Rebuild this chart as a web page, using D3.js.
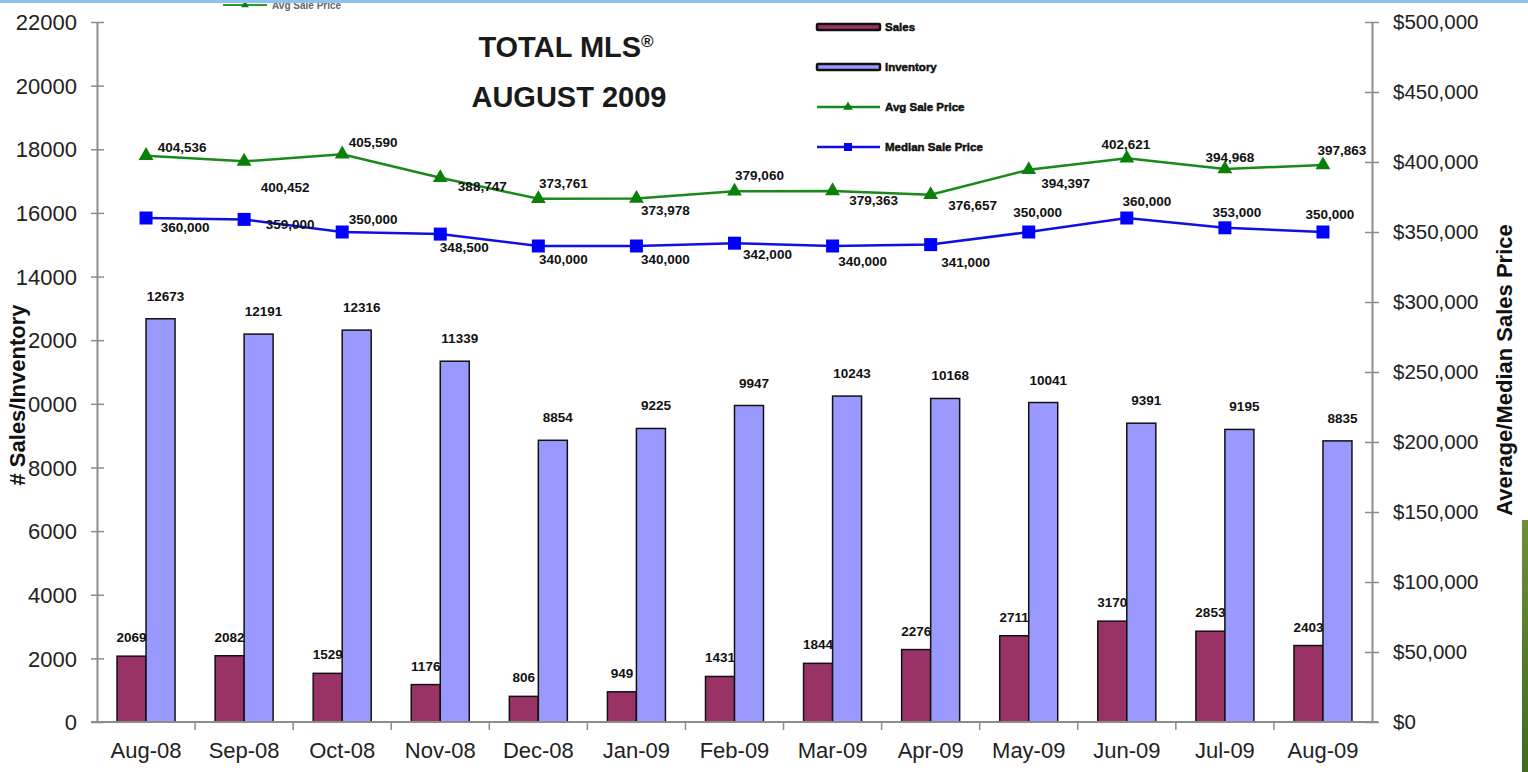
<!DOCTYPE html>
<html>
<head>
<meta charset="utf-8">
<script src="https://cdn.jsdelivr.net/npm/d3@7/dist/d3.min.js"></script>
<style>
  body { margin: 0; background: #fff; }
  svg { display: block; }
  text { font-family: "Liberation Sans", Arial, sans-serif; }
</style>
</head>
<body>
<div class="chart"></div>
<script>
// data
var months = ["Aug-08","Sep-08","Oct-08","Nov-08","Dec-08","Jan-09","Feb-09","Mar-09","Apr-09","May-09","Jun-09","Jul-09","Aug-09"];
var sales = [2069, 2082, 1529, 1176, 806, 949, 1431, 1844, 2276, 2711, 3170, 2853, 2403];
var inventory = [12673, 12191, 12316, 11339, 8854, 9225, 9947, 10243, 10168, 10041, 9391, 9195, 8835];
var avgPrice = [404536, 400452, 405590, 388747, 373761, 373978, 379060, 379363, 376657, 394397, 402621, 394968, 397863];
var medianPrice = [360000, 359000, 350000, 348500, 340000, 340000, 342000, 340000, 341000, 350000, 360000, 353000, 350000];
var leftTicks = [0, 2000, 4000, 6000, 8000, 10000, 12000, 14000, 16000, 18000, 20000, 22000];
var rightTicks = [0, 50000, 100000, 150000, 200000, 250000, 300000, 350000, 400000, 450000, 500000];

// where each price label sits relative to its point (px)
var avgLabelPos = [[36,-8],[41,26],[31,-12],[42,9],[25,-15],[29,12],[25,-16],[41,9],[42,11],[37,13],[-1,-14],[5,-12],[19,-15]];
var medLabelPos = [[39,9],[46,5],[31,-13],[24,13],[25,13],[29,13],[33,11],[30,15],[35,18],[9,-20],[20,-17],[12,-16],[7,-18]];

var W = 1528, H = 772;
var svg = d3.select(".chart").append("svg").attr("width", W).attr("height", H);

var x = d3.scaleBand().domain(months).range([97, 1372]).padding(0);
var yL = d3.scaleLinear().domain([0, 22000]).range([722, 22]);
var yR = d3.scaleLinear().domain([0, 500000]).range([722, 22]);
var barW = 29;
var axisCol = "#8c8c8c";

// ghost legend piece peeking under top border
svg.append("line").attr("x1", 223).attr("x2", 267).attr("y1", 5).attr("y2", 5)
   .attr("stroke", "#2a9a2a").attr("stroke-width", 2);
svg.append("path").attr("d", d3.symbol().type(d3.symbolTriangle).size(25)).attr("transform", "translate(245,5)").attr("fill", "#0a800a");
svg.append("text").attr("x", 272).attr("y", 9).attr("font-size", 10).attr("font-weight", "bold")
   .attr("fill", "#666").text("Avg Sale Price");

// bars
var g = svg.append("g");
g.selectAll("rect.sales").data(sales).enter().append("rect").attr("class", "sales")
  .attr("x", function(d, i){ return x(months[i]) + x.bandwidth()/2 - barW; })
  .attr("y", function(d){ return yL(d); })
  .attr("width", barW)
  .attr("height", function(d){ return yL(0) - yL(d); })
  .attr("fill", "#993366").attr("stroke", "#111").attr("stroke-width", 1.5);
g.selectAll("rect.inv").data(inventory).enter().append("rect").attr("class", "inv")
  .attr("x", function(d, i){ return x(months[i]) + x.bandwidth()/2; })
  .attr("y", function(d){ return yL(d); })
  .attr("width", barW)
  .attr("height", function(d){ return yL(0) - yL(d); })
  .attr("fill", "#9999ff").attr("stroke", "#111").attr("stroke-width", 1.5);

g.selectAll("text.sl").data(sales).enter().append("text")
  .attr("x", function(d, i){ return x(months[i]) + x.bandwidth()/2 - barW/2; })
  .attr("y", function(d){ return yL(d) - 14; })
  .attr("text-anchor", "middle").attr("font-size", 13.5).attr("font-weight", "bold").attr("fill", "#111")
  .text(function(d){ return d; });
g.selectAll("text.il").data(inventory).enter().append("text")
  .attr("x", function(d, i){ return x(months[i]) + x.bandwidth()/2 + barW/2 + 5; })
  .attr("y", function(d){ return yL(d) - 18; })
  .attr("text-anchor", "middle").attr("font-size", 13.5).attr("font-weight", "bold").attr("fill", "#111")
  .text(function(d){ return d; });

// axes
function styleAxis(sel){
  sel.select(".domain").attr("stroke", axisCol).attr("stroke-width", 2);
  sel.selectAll(".tick line").attr("stroke", axisCol).attr("stroke-width", 1.5);
}
var axL = svg.append("g").attr("transform", "translate(97,0)")
  .call(d3.axisLeft(yL).tickValues(leftTicks).tickSize(7).tickSizeOuter(0).tickPadding(13).tickFormat(d3.format("d")));
styleAxis(axL);
axL.selectAll(".tick line").attr("x2", 7).attr("x1", -6);
axL.selectAll(".tick text").attr("font-size", 22).attr("fill", "#222").attr("dy", "0.35em").attr("x", -20);

var axR = svg.append("g").attr("transform", "translate(1372,0)")
  .call(d3.axisRight(yR).tickValues(rightTicks).tickSize(7).tickSizeOuter(0).tickFormat(function(d){ return "$" + d3.format(",")(d); }));
styleAxis(axR);
axR.selectAll(".tick line").attr("x1", -7).attr("x2", 7);
axR.selectAll(".tick text").attr("font-size", 20.5).attr("fill", "#222").attr("x", 21);

var axB = svg.append("g").attr("transform", "translate(0,722)")
  .call(d3.axisBottom(x).tickSize(0).tickPadding(20));
styleAxis(axB);
axB.select(".domain").attr("d", "M91,0H1378");
axB.selectAll(".tick text").attr("font-size", 22).attr("fill", "#222");
axB.selectAll("line.sep").data(months.slice(1)).enter().append("line").attr("class", "sep")
  .attr("x1", function(d){ return x(d); }).attr("x2", function(d){ return x(d); })
  .attr("y1", 0).attr("y2", 8).attr("stroke", axisCol).attr("stroke-width", 1.5);

// price lines
function cx(i){ return x(months[i]) + x.bandwidth()/2; }
var lineAvg = d3.line().x(function(d, i){ return cx(i); }).y(function(d){ return yR(d); });
svg.append("path").attr("d", lineAvg(avgPrice)).attr("fill", "none").attr("stroke", "#1a881a").attr("stroke-width", 2.5);
svg.append("path").attr("d", lineAvg(medianPrice)).attr("fill", "none").attr("stroke", "#1010e0").attr("stroke-width", 2.5);

var tri = d3.symbol().type(d3.symbolTriangle).size(95);
svg.selectAll("path.tri").data(avgPrice).enter().append("path").attr("class", "tri")
  .attr("d", tri).attr("fill", "#0a800a")
  .attr("transform", function(d, i){ return "translate(" + cx(i) + "," + yR(d) + ")"; });
svg.selectAll("rect.sq").data(medianPrice).enter().append("rect").attr("class", "sq")
  .attr("x", function(d, i){ return cx(i) - 6.5; }).attr("y", function(d){ return yR(d) - 6.5; })
  .attr("width", 13).attr("height", 13).attr("fill", "#0000ff");

svg.selectAll("text.al").data(avgPrice).enter().append("text")
  .attr("x", function(d, i){ return cx(i) + avgLabelPos[i][0]; })
  .attr("y", function(d, i){ return yR(d) + avgLabelPos[i][1]; })
  .attr("dy", "0.35em").attr("text-anchor", "middle").attr("font-size", 13.5).attr("font-weight", "bold").attr("fill", "#111")
  .text(function(d){ return d3.format(",")(d); });
svg.selectAll("text.ml").data(medianPrice).enter().append("text")
  .attr("x", function(d, i){ return cx(i) + medLabelPos[i][0]; })
  .attr("y", function(d, i){ return yR(d) + medLabelPos[i][1]; })
  .attr("dy", "0.35em").attr("text-anchor", "middle").attr("font-size", 13.5).attr("font-weight", "bold").attr("fill", "#111")
  .text(function(d){ return d3.format(",")(d); });

// axis titles
svg.append("text").attr("transform", "translate(17,395) rotate(-90)")
  .attr("text-anchor", "middle").attr("dy", "0.35em").attr("font-size", 22).attr("font-weight", "bold").attr("fill", "#111")
  .attr("stroke", "#fff").attr("stroke-width", 5).attr("paint-order", "stroke")
  .text("# Sales/Inventory");
svg.append("text").attr("transform", "translate(1504,370) rotate(-90)")
  .attr("text-anchor", "middle").attr("dy", "0.35em").attr("font-size", 22).attr("font-weight", "bold").attr("fill", "#111")
  .text("Average/Median Sales Price");

// title
var title = svg.append("text").attr("x", 569).attr("text-anchor", "middle")
  .attr("font-family", "'Open Sans', Lato, sans-serif").attr("font-weight", "bold").attr("font-size", 29).attr("fill", "#1a1a1a");
title.append("tspan").attr("x", 566).attr("y", 57).text("TOTAL MLS");
title.append("tspan").attr("font-size", 17).attr("dy", -10).text("®");
title.append("tspan").attr("x", 569).attr("y", 107).text("AUGUST 2009");

// legend
var legendItems = ["Sales", "Inventory", "Avg Sale Price", "Median Sale Price"];
var leg = svg.selectAll("g.leg").data(legendItems).enter().append("g").attr("class", "leg")
  .attr("transform", function(d, i){ return "translate(817," + (27 + i * 40) + ")"; });
leg.each(function(d, i){
  var s = d3.select(this);
  if (i < 2) {
    s.append("rect").attr("x", 0).attr("y", -3).attr("width", 63).attr("height", 6)
      .attr("fill", i === 0 ? "#993366" : "#9999ff").attr("stroke", "#111").attr("stroke-width", 2.5).attr("rx", 1);
  } else {
    s.append("line").attr("x1", 0).attr("x2", 63).attr("y1", 0).attr("y2", 0)
      .attr("stroke", i === 2 ? "#1a881a" : "#1010e0").attr("stroke-width", 2.5);
    if (i === 2) s.append("path").attr("d", d3.symbol().type(d3.symbolTriangle).size(40)).attr("transform", "translate(31,0)").attr("fill", "#0a800a");
    else s.append("rect").attr("x", 27).attr("y", -4).attr("width", 8).attr("height", 8).attr("fill", "#0000ff");
  }
  s.append("text").attr("x", 68).attr("dy", "0.35em").attr("font-size", 11.5).attr("font-weight", "bold")
    .attr("fill", "#111").attr("stroke", "#111").attr("stroke-width", 0.5).text(d);
});

// frame pieces
svg.append("rect").attr("x", 0).attr("y", 0).attr("width", W).attr("height", 3).attr("fill", "#8cc3ef");
var grad = svg.append("defs").append("linearGradient").attr("id", "grass").attr("x1", 0).attr("x2", 0).attr("y1", 0).attr("y2", 1);
grad.append("stop").attr("offset", 0).attr("stop-color", "#6d8f3a");
grad.append("stop").attr("offset", 1).attr("stop-color", "#3e6a22");
svg.append("rect").attr("x", 1522).attr("y", 520).attr("width", 6).attr("height", 252).attr("fill", "url(#grass)");
</script>
</body>
</html>
